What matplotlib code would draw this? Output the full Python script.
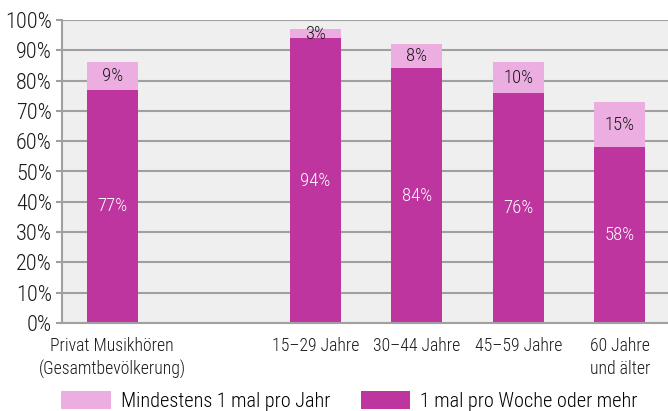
import matplotlib
matplotlib.use("Agg")
import matplotlib.pyplot as plt
from matplotlib import font_manager
from matplotlib.patches import Patch

names = {f.name for f in font_manager.fontManager.ttflist}
fam = "DejaVu Sans"
for cand in ["Liberation Sans Narrow", "Roboto Condensed", "PT Sans Narrow", "Archivo Narrow",
             "Barlow Semi Condensed", "Asap Condensed"]:
    if cand in names:
        fam = cand
        break
plt.rcParams["font.family"] = [fam, "DejaVu Sans"]
plt.rcParams["font.weight"] = "light"

categories = ["Privat Musikhören\n(Gesamtbevölkerung)", "", "15–29 Jahre", "30–44 Jahre",
              "45–59 Jahre", "60 Jahre\nund älter"]
weekly = [77, None, 94, 84, 76, 58]
yearly = [9, None, 3, 8, 10, 15]
series_names = ["Mindestens 1 mal pro Jahr", "1 mal pro Woche oder mehr"]
yticks = [0, 10, 20, 30, 40, 50, 60, 70, 80, 90, 100]

dark = "#BE35A0"
light = "#ECAEE0"
grid = "#A0A0A0"
txt = "#1a1a1a"

W, H = 668, 411
fig = plt.figure(figsize=(W / 100, H / 100), dpi=100)
ax = fig.add_axes([61.5 / W, 88 / H, 609 / W, 303 / H])
ax.set_facecolor("#EFEFEF")

xs = list(range(len(categories)))
for x, w, y in zip(xs, weekly, yearly):
    if w is None:
        continue
    ax.bar(x, w, width=0.5, color=dark, zorder=3)
    ax.bar(x, y, bottom=w, width=0.5, color=light, zorder=3)
    ax.text(x, w / 2, f"{w}%", ha="center", va="center", color="white", fontsize=13.5, zorder=4)
    ax.text(x, w + y / 2, f"{y}%", ha="center", va="center", color=txt, fontsize=13.5, zorder=4)

ax.set_xlim(-0.5, 5.5)
ax.set_ylim(0, 100)
ax.set_yticks(yticks)
ax.set_yticklabels([f"{t}%" for t in yticks], fontsize=16, color=txt)
ax.set_xticks(xs)
ax.set_xticklabels(categories, fontsize=12.8, color=txt, linespacing=1.35)
ax.tick_params(axis="x", length=0, pad=10)
ax.tick_params(axis="y", length=4, width=1.5, color=grid, pad=3)
ax.yaxis.grid(True, color=grid, linewidth=1.5, zorder=1)
ax.set_axisbelow(True)
for s in ["top", "right"]:
    ax.spines[s].set_visible(False)
for s in ["left", "bottom"]:
    ax.spines[s].set_color(grid)
    ax.spines[s].set_linewidth(1.5)
    ax.spines[s].set_zorder(5)

handles = [Patch(facecolor=light, edgecolor="none"), Patch(facecolor=dark, edgecolor="none")]
fig.legend(handles, series_names, loc="upper left", bbox_to_anchor=(61 / W, 20 / H),
           ncol=2, frameon=False, fontsize=14.6, handlelength=2.45, handleheight=1.0,
           handletextpad=0.5, columnspacing=1.5, borderpad=0, borderaxespad=0)

fig.savefig("out.png", dpi=100)
